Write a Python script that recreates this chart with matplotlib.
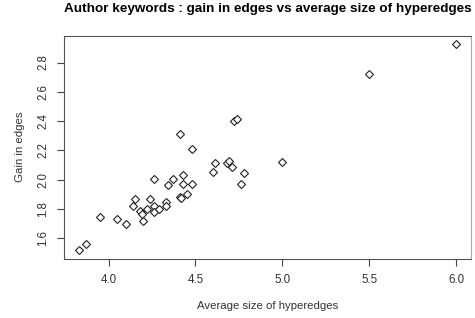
import matplotlib
matplotlib.use('Agg')
import matplotlib.pyplot as plt
import numpy as np

# --- dati ---
avg_size = [3.83, 3.87, 3.95, 4.05, 4.10, 4.20, 4.14, 4.15, 4.18, 4.19,
            4.22, 4.24, 4.26, 4.26, 4.26, 4.29, 4.33, 4.33, 4.34, 4.37,
            4.41, 4.415, 4.43, 4.43, 4.45, 4.48, 4.41, 4.48, 4.60, 4.61,
            4.68, 4.69, 4.71, 4.72, 4.74, 4.76, 4.78, 5.00, 5.50, 6.00]
gain = [1.517, 1.558, 1.747, 1.730, 1.698, 1.718, 1.823, 1.866, 1.786, 1.769,
        1.797, 1.866, 1.820, 1.780, 2.003, 1.798, 1.848, 1.818, 1.966, 2.003,
        1.880, 1.872, 2.032, 1.969, 1.904, 1.969, 2.312, 2.207, 2.055, 2.112,
        2.112, 2.128, 2.089, 2.403, 2.414, 1.971, 2.048, 2.119, 2.720, 2.926]
xticks = [4.0, 4.5, 5.0, 5.5, 6.0]
yticks = [1.6, 1.8, 2.0, 2.2, 2.4, 2.6, 2.8]

plt.rcParams['font.family'] = ['Liberation Sans', 'DejaVu Sans']

fig = plt.figure(figsize=(4.75, 3.18), dpi=100)
ax = fig.add_axes([0.1354, 0.1865, 0.8556, 0.7012])

ax.plot(avg_size, gain, linestyle='none', marker='D', markersize=4.0,
        markerfacecolor='white', markeredgecolor='#222222', markeredgewidth=0.8)

ax.set_xlim(3.745, 6.084)
ax.set_ylim(1.461, 2.983)
ax.set_xticks(xticks)
ax.set_xticklabels([f'{v:.1f}' for v in xticks])
ax.set_yticks(yticks)
ax.set_yticklabels([f'{v:.1f}' for v in yticks], rotation=90, va='center')
ax.tick_params(length=5, width=0.8, color='#444444', labelsize=8.3,
               labelcolor='#333333', pad=6)

for s in ax.spines.values():
    s.set_linewidth(0.8)
    s.set_color('#555555')
ax.spines['right'].set_color('#aaaaaa')

ax.set_xlabel('Average size of hyperedges', fontsize=8.2, color='#333333', labelpad=11)
ax.set_ylabel('Gain in edges', fontsize=8.2, color='#333333', labelpad=9)
ax.set_title('Author keywords : gain in edges vs average size of hyperedges',
             fontsize=9.7, fontweight='bold', pad=17)

fig.savefig('out.png', dpi=100)
